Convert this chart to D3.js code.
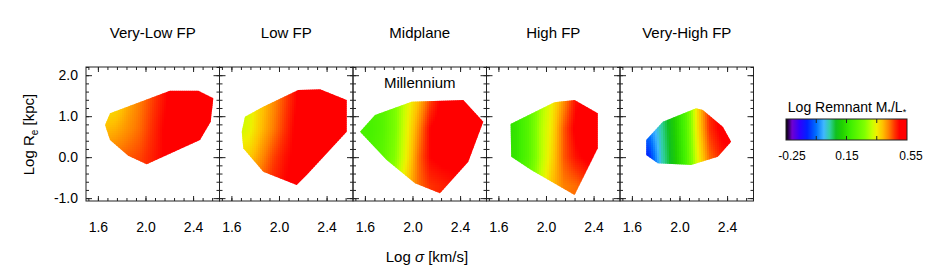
<!DOCTYPE html>
<html><head><meta charset="utf-8">
<script src="https://cdn.jsdelivr.net/npm/d3@7"></script>
<style>body{margin:0;background:#fff;} svg{display:block;font-family:"Liberation Sans",Arial,sans-serif;}</style>
</head><body><svg id="chart" width="926" height="278"></svg>
<script>
// ---------- DATA ----------
const panelTitles = ["Very-Low FP", "Low FP", "Midplane", "High FP", "Very-High FP"];
// grid nodes on which the Log Remnant M*/L* map is sampled
const sigmaNodes = [1.55, 1.65, 1.75, 1.85, 1.95, 2.05, 2.15, 2.25, 2.35, 2.45, 2.55];
const reNodes = [-0.7, 0.0, 0.7, 1.4];
// rows: Re = -0.7, 0.0, 0.7, 1.4
const valuesVeryLow = [
  [0.45, 0.45, 0.45, 0.46, 0.47, 0.48, 0.50, 0.52, 0.52, 0.52, 0.52],
  [0.43, 0.43, 0.44, 0.45, 0.46, 0.48, 0.50, 0.52, 0.52, 0.52, 0.52],
  [0.39, 0.39, 0.40, 0.42, 0.44, 0.47, 0.50, 0.52, 0.53, 0.53, 0.53],
  [0.35, 0.35, 0.36, 0.40, 0.43, 0.46, 0.49, 0.52, 0.53, 0.53, 0.53]];
const valuesLow = [
  [0.42, 0.42, 0.43, 0.45, 0.48, 0.50, 0.51, 0.52, 0.52, 0.52, 0.52],
  [0.37, 0.37, 0.38, 0.42, 0.46, 0.49, 0.51, 0.52, 0.52, 0.52, 0.52],
  [0.32, 0.32, 0.34, 0.39, 0.43, 0.47, 0.51, 0.52, 0.53, 0.53, 0.53],
  [0.30, 0.30, 0.33, 0.38, 0.42, 0.46, 0.50, 0.52, 0.53, 0.53, 0.53]];
const valuesMid = [
  [0.23, 0.23, 0.25, 0.30, 0.38, 0.44, 0.47, 0.48, 0.49, 0.49, 0.49],
  [0.20, 0.20, 0.22, 0.27, 0.35, 0.44, 0.50, 0.51, 0.51, 0.51, 0.51],
  [0.19, 0.19, 0.21, 0.26, 0.34, 0.42, 0.50, 0.52, 0.52, 0.52, 0.52],
  [0.20, 0.20, 0.21, 0.26, 0.33, 0.39, 0.46, 0.51, 0.52, 0.52, 0.52]];
const valuesHigh = [
  [0.19, 0.19, 0.20, 0.24, 0.32, 0.39, 0.43, 0.44, 0.46, 0.47, 0.47],
  [0.15, 0.15, 0.16, 0.21, 0.30, 0.37, 0.45, 0.49, 0.51, 0.51, 0.51],
  [0.14, 0.14, 0.16, 0.21, 0.30, 0.36, 0.45, 0.51, 0.52, 0.52, 0.52],
  [0.16, 0.16, 0.17, 0.21, 0.29, 0.35, 0.42, 0.49, 0.51, 0.52, 0.52]];
const valuesVeryHigh = [
  [-0.20, -0.20, -0.16, 0.02, 0.10, 0.18, 0.32, 0.42, 0.45, 0.46, 0.46],
  [-0.15, -0.15, -0.10, 0.03, 0.10, 0.19, 0.34, 0.44, 0.48, 0.50, 0.50],
  [-0.04, -0.04, -0.03, 0.04, 0.11, 0.20, 0.36, 0.47, 0.51, 0.52, 0.52],
  [-0.01, -0.01, -0.01, 0.05, 0.12, 0.21, 0.37, 0.48, 0.51, 0.52, 0.52]];
// outlines of the populated region [log sigma, log Re]
const hullVeryLow = [[1.702,1.069],[1.660,0.784],[1.702,0.418],[1.855,0.035],[2.010,-0.175],[2.458,0.418],[2.548,0.864],[2.570,1.435],[2.444,1.620],[2.206,1.620]];
const hullLow = [[1.714,0.986],[1.687,0.620],[1.700,0.215],[1.868,-0.355],[2.149,-0.680],[2.233,-0.436],[2.569,0.620],[2.569,1.393],[2.345,1.654],[2.162,1.637],[1.868,1.230]];
const hullMid = [[1.559,0.620],[1.685,1.028],[1.993,1.352],[2.427,1.393],[2.595,0.864],[2.469,-0.111],[2.231,-0.882],[2.021,-0.638],[1.783,-0.070]];
const hullHigh = [[1.702,0.808],[1.708,0.010],[1.876,-0.314],[2.240,-0.924],[2.435,0.215],[2.435,1.069],[2.240,1.393],[2.071,1.337]];
const hullVeryHigh = [[1.720,0.418],[1.720,0.052],[1.818,-0.150],[2.098,-0.192],[2.322,0.010],[2.434,0.376],[2.364,0.742],[2.196,1.150],[2.140,1.191],[1.860,0.864]];

const xTicks = [1.6, 2.0, 2.4];
const xTickLabels = ["1.6", "2.0", "2.4"];
const yTicks = [-1, 0, 1, 2];
const yTickLabels = ["-1.0", "0.0", "1.0", "2.0"];
const cbarTicks = [-0.25, 0.15, 0.55];
const cbarTickLabels = ["-0.25", "0.15", "0.55"];
const cbarMinorTicks = [-0.05, 0.15, 0.35];
const cmapStops = [-0.25, -0.21, -0.16, -0.11, -0.05, 0.00, 0.04, 0.08, 0.12, 0.18, 0.27, 0.32, 0.35, 0.39, 0.43, 0.47, 0.50, 0.55];
const cmapColors = ["#000000", "#7000d0", "#3000ff", "#0020ff", "#0070ff", "#40b8ff", "#30d0a0", "#10c020", "#20d000", "#40f000", "#80ff00", "#c8ff00", "#f0f000", "#ffc000", "#ff8000", "#ff3000", "#ff0000", "#ff0000"];

const panelValues = [valuesVeryLow, valuesLow, valuesMid, valuesHigh, valuesVeryHigh];
const panelHulls = [hullVeryLow, hullLow, hullMid, hullHigh, hullVeryHigh];

// ---------- LAYOUT ----------
const svg = d3.select("#chart");
const left0 = 86, panelW = 133.5, plotTop = 67, plotBottom = 201;
const color = d3.scaleLinear().domain(cmapStops).range(cmapColors).interpolate(d3.interpolateRgb).clamp(true);
const y = d3.scaleLinear().domain([-1.07, 2.2]).range([plotBottom, plotTop]);

function bilinear(grid, s, r) {
  const n = sigmaNodes.length;
  let i = d3.bisectRight(sigmaNodes, s) - 1; i = Math.max(0, Math.min(n - 2, i));
  let ts = (s - sigmaNodes[i]) / (sigmaNodes[i + 1] - sigmaNodes[i]); ts = Math.max(0, Math.min(1, ts));
  let j = d3.bisectRight(reNodes, r) - 1; j = Math.max(0, Math.min(reNodes.length - 2, j));
  let tr = (r - reNodes[j]) / (reNodes[j + 1] - reNodes[j]); tr = Math.max(0, Math.min(1, tr));
  const a = grid[j][i] * (1 - ts) + grid[j][i + 1] * ts;
  const b = grid[j + 1][i] * (1 - ts) + grid[j + 1][i + 1] * ts;
  return a * (1 - tr) + b * tr;
}

const defs = svg.append("defs");
const tickColor = "#222";
const styleTicks = s => { s.select(".domain").remove(); s.selectAll("line").attr("stroke", tickColor); };

panelTitles.forEach((title, p) => {
  const L = left0 + p * panelW;
  const x = d3.scaleLinear().domain([1.5, 2.622]).range([L, L + panelW]);
  const hullPx = panelHulls[p].map(d => [x(d[0]), y(d[1])]);
  defs.append("clipPath").attr("id", "clip" + p)
    .append("path").attr("d", "M" + hullPx.join("L") + "Z");
  const g = svg.append("g").attr("clip-path", `url(#clip${p})`);
  const xs = d3.extent(hullPx, d => d[0]), ys = d3.extent(hullPx, d => d[1]);
  const cells = [];
  const step = 2;
  for (let px = Math.floor(xs[0]) - 1; px < xs[1] + 1; px += step) {
    for (let py = Math.floor(ys[0]) - 1; py < ys[1] + 1; py += step) {
      cells.push({px, py, v: bilinear(panelValues[p], x.invert(px + step / 2), y.invert(py + step / 2))});
    }
  }
  g.selectAll("rect").data(cells).join("rect")
    .attr("x", d => d.px).attr("y", d => d.py)
    .attr("width", step + 0.4).attr("height", step + 0.4)
    .attr("fill", d => color(d.v));

  // frame
  svg.append("rect").attr("x", L).attr("y", plotTop).attr("width", panelW).attr("height", plotBottom - plotTop)
    .attr("fill", "none").attr("stroke", tickColor).attr("stroke-width", 1);

  // ticks (inward)
  const xMinor = d3.range(1.52, 2.6, 0.08);
  const yMinor = d3.range(-1.0, 2.21, 0.2);
  [[d3.axisBottom(x), `translate(0,${plotBottom})`], [d3.axisTop(x), `translate(0,${plotTop})`]].forEach(([ax, tr]) => {
    svg.append("g").attr("transform", tr).call(ax.tickValues(xMinor).tickSize(-3).tickFormat("")).call(styleTicks);
    svg.append("g").attr("transform", tr).call(ax.tickValues(xTicks).tickSize(-5).tickFormat("")).call(styleTicks);
  });
  [[d3.axisLeft(y), `translate(${L},0)`], [d3.axisRight(y), `translate(${L + panelW},0)`]].forEach(([ax, tr]) => {
    svg.append("g").attr("transform", tr).call(ax.tickValues(yMinor).tickSize(-3).tickFormat("")).call(styleTicks);
    svg.append("g").attr("transform", tr).call(ax.tickValues(yTicks).tickSize(-6).tickFormat("")).call(styleTicks);
  });

  // x tick labels
  svg.append("g").attr("transform", `translate(0,${plotBottom})`)
    .call(d3.axisBottom(x).tickValues(xTicks).tickSize(0).tickPadding(21).tickFormat((d, i) => xTickLabels[i]))
    .call(s => { s.select(".domain").remove(); s.selectAll("text").attr("font-size", 14).attr("fill", "#000").attr("font-family", "Liberation Sans, Arial, sans-serif"); });

  // panel title
  svg.append("text").attr("x", L + panelW / 2).attr("y", 38).attr("text-anchor", "middle")
    .attr("font-size", 15).text(title);
});

// y tick labels on first panel
svg.append("g").attr("transform", `translate(${left0},0)`)
  .call(d3.axisLeft(y).tickValues(yTicks).tickSize(0).tickPadding(8).tickFormat((d, i) => yTickLabels[i]))
  .call(s => { s.select(".domain").remove(); s.selectAll("text").attr("font-size", 14).attr("fill", "#000").attr("font-family", "Liberation Sans, Arial, sans-serif"); });

// Millennium label
svg.append("text").attr("x", left0 + 2.5 * panelW).attr("y", 88).attr("text-anchor", "middle")
  .attr("font-size", 15).text("Millennium");

// axis titles
const xt = svg.append("text").attr("x", 427).attr("y", 262).attr("text-anchor", "middle").attr("font-size", 15);
xt.append("tspan").text("Log ");
xt.append("tspan").attr("font-style", "italic").text("σ");
xt.append("tspan").text(" [km/s]");

const yt = svg.append("text").attr("transform", "translate(34,134.5) rotate(-90)").attr("text-anchor", "middle").attr("font-size", 15);
yt.append("tspan").text("Log R");
yt.append("tspan").attr("font-size", 10).attr("dy", 4).text("e");
yt.append("tspan").attr("dy", -4).text(" [kpc]");

// ---------- COLORBAR ----------
const cx = d3.scaleLinear().domain([-0.25, 0.55]).range([786, 907]);
const grad = defs.append("linearGradient").attr("id", "cbar").attr("x1", "0%").attr("x2", "100%");
grad.selectAll("stop").data(cmapStops).join("stop")
  .attr("offset", d => ((d + 0.25) / 0.8 * 100) + "%")
  .attr("stop-color", (d, i) => cmapColors[i]);
svg.append("rect").attr("x", cx(-0.25)).attr("y", 119).attr("width", cx(0.55) - cx(-0.25)).attr("height", 21)
  .attr("fill", "url(#cbar)").attr("stroke", tickColor).attr("stroke-width", 1);
cbarMinorTicks.forEach(v => {
  svg.append("line").attr("x1", cx(v)).attr("x2", cx(v)).attr("y1", 119).attr("y2", 123).attr("stroke", tickColor);
  svg.append("line").attr("x1", cx(v)).attr("x2", cx(v)).attr("y1", 136).attr("y2", 140).attr("stroke", tickColor);
});
cbarTicks.forEach((v, i) => {
  svg.append("text").attr("x", cx(v) + (i === 0 ? 6 : (i === 2 ? 4 : 0.5))).attr("y", 160).attr("text-anchor", "middle")
    .attr("font-size", 12).text(cbarTickLabels[i]);
});
const ct = svg.append("text").attr("x", 847).attr("y", 112).attr("text-anchor", "middle").attr("font-size", 14);
ct.append("tspan").text("Log Remnant M");
ct.append("tspan").attr("font-size", 9).attr("dy", 3).text("*");
ct.append("tspan").attr("dy", -3).text("/L");
ct.append("tspan").attr("font-size", 9).attr("dy", 3).text("*");
</script></body></html>
